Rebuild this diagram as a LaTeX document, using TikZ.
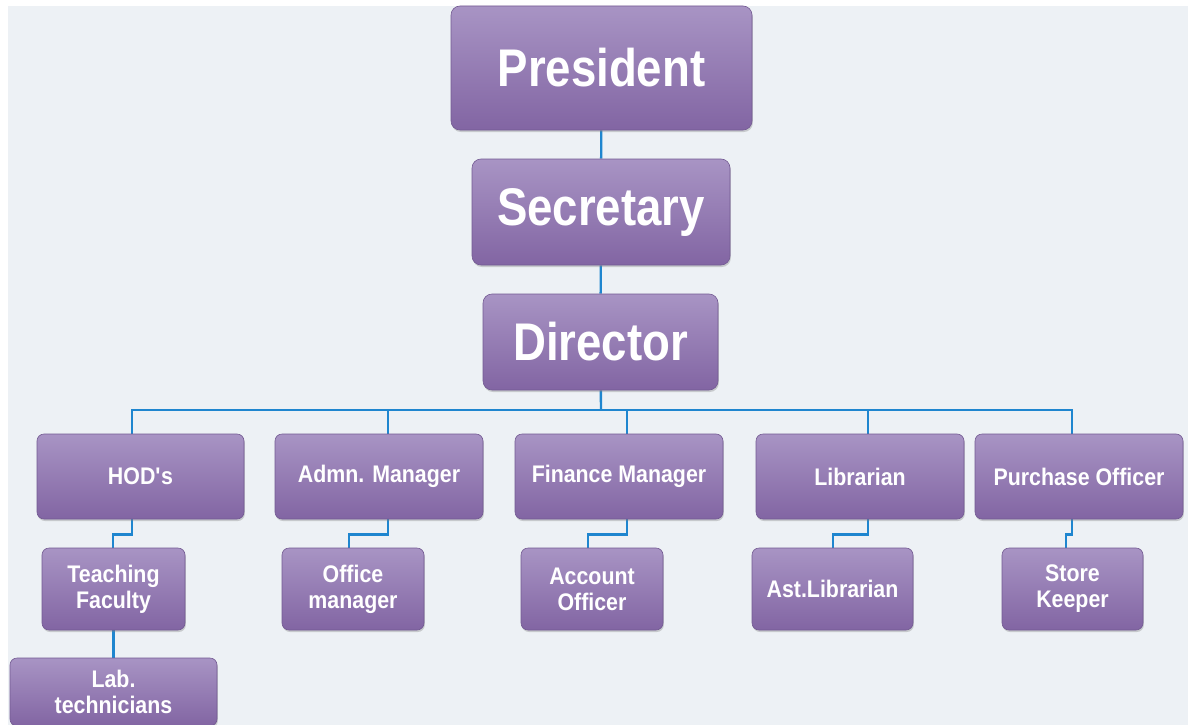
\documentclass[tikz,border=0pt]{standalone}
\usepackage{fontspec}
\setmainfont{Liberation Sans}[FakeStretch=0.89]
\newfontfamily\bigfont{Liberation Sans}[FakeStretch=0.86]
\usetikzlibrary{shadows}
\pgfdeclarelayer{paper}
\pgfdeclarelayer{links}
\pgfsetlayers{paper,links,main}
\definecolor{bgcol}{HTML}{EDF1F5}
\definecolor{boxtop}{HTML}{A894C4}
\definecolor{boxbot}{HTML}{8265A3}
\definecolor{boxline}{HTML}{735A92}
\definecolor{linkblue}{HTML}{1F86CF}
\tikzset{
	post/.style={rectangle, rounded corners=7pt, top color=boxtop, bottom color=boxbot, draw=boxline, line width=0.6pt,
		text=white, align=center, inner sep=0pt, font=\bfseries\fontsize{24}{26}\selectfont,
		drop shadow={shadow xshift=0.8pt, shadow yshift=-2pt, opacity=0.35}},
	head/.style={post, rounded corners=9pt, font=\bigfont\bfseries\fontsize{53}{56}\selectfont},
	link/.style={draw=linkblue, line width=2.4pt}
}
\begin{document}
\begin{tikzpicture}[x=1pt, y=-1pt, line join=round]
	\useasboundingbox (0,0) rectangle (1188,725);
	\clip (0,0) rectangle (1188,725);
	\begin{pgfonlayer}{paper}
	\fill[white] (0,0) rectangle (1188,725);
	\fill[bgcol] (8,6) rectangle (1188,725);
	\end{pgfonlayer}
	% top of the chart
	\node[head, minimum width=301pt, minimum height=124pt] (president) at (601.5,68) {President};
	\node[head, minimum width=258pt, minimum height=106pt] (secretary) at (601,212) {Secretary};
	\node[head, minimum width=235pt, minimum height=96pt] (director) at (600.5,342) {Director};
	% heads of sections
	\node[post, minimum width=207pt, minimum height=85pt] (hod) at (140.5,476.5) {HOD\textquotesingle s};
	\node[post, minimum width=208pt, minimum height=85pt] (admn) at (379,476.5) {Admn. Manager};
	\node[post, minimum width=208pt, minimum height=85pt] (finance) at (619,476.5) {Finance Manager};
	\node[post, minimum width=208pt, minimum height=85pt] (librarian) at (860,476.5) {Librarian};
	\node[post, minimum width=208pt, minimum height=85pt] (purchase) at (1079,476.5) {Purchase Officer};
	% staff
	\node[post, minimum width=143pt, minimum height=82pt] (teach) at (113.5,589) {Teaching\\Faculty};
	\node[post, minimum width=142pt, minimum height=82pt] (office) at (353,589) {Office\\manager};
	\node[post, minimum width=142pt, minimum height=82pt] (account) at (592,589) {Account\\Officer};
	\node[post, minimum width=161pt, minimum height=82pt] (astlib) at (832.5,589) {Ast.Librarian};
	\node[post, minimum width=141pt, minimum height=82pt] (store) at (1072.5,589) {Store\\Keeper};
	\node[post, minimum width=207pt, minimum height=68pt] (lab) at (113.5,692) {Lab.\\technicians};
	% links, under the boxes
	\begin{pgfonlayer}{links}
	\coordinate (bus) at (601,410);
	\draw[link] (president) -- (secretary);
	\draw[link] (secretary) -- (director);
	\draw[link] (director) -- (bus);
	\foreach \n/\d in {hod/-8.5, admn/9, finance/8, librarian/8, purchase/-7}
		\draw[link] (bus) -| ([xshift=\d pt]\n.center);
	\draw[link] ([xshift=-8.5pt]hod.south) -- ++(0,15) -| ([xshift=-0.5pt]teach.center);
	\draw[link] ([xshift=9pt]admn.south) -- ++(0,15) -| ([xshift=-4pt]office.center);
	\draw[link] ([xshift=8pt]finance.south) -- ++(0,15) -| ([xshift=-4pt]account.center);
	\draw[link] ([xshift=8pt]librarian.south) -- ++(0,15) -| ([xshift=0.5pt]astlib.center);
	\draw[link] ([xshift=-7pt]purchase.south) -- ++(0,15) -| ([xshift=-6.5pt]store.center);
	\draw[link] (teach) -- (lab);
	\end{pgfonlayer}
\end{tikzpicture}
\end{document}
